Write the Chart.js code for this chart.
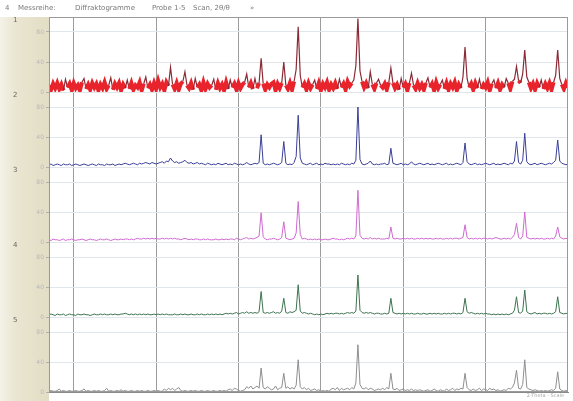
<!DOCTYPE html>
<html>
<head>
<meta charset="utf-8">
<script src="https://cdn.jsdelivr.net/npm/chart.js@4"></script>
<style>
  html, body { margin: 0; padding: 0; background: #ffffff; }
  #c { display: block; }
</style>
</head>
<body>
<canvas id="c" width="573" height="401"></canvas>
<script>
// Scan grid: 2-theta from scanStart in steps of scanStep (one value per step)
const scanStart = 7;
const scanStep = 0.25;
const scanEnd = 70;
const xTicks = [10, 20, 30, 40, 50, 60];

const panelLabels = ['1', '2', '3', '4', '5'];
const sampleNames = ['Probe 1', 'Probe 2', 'Probe 3', 'Probe 4', 'Probe 5'];

// Intensities (counts, relative 0-100 per panel)
const probe1 = [
  9,3,11,5,12,4,10,2,17,6,11,3,12,5,9,2,13,18,4,10,
  3,12,6,11,2,10,5,13,4,9,19,3,11,6,12,2,10,5,16,4,
  12,3,9,6,13,2,11,20,5,10,3,12,4,15,6,11,2,13,8,33,
  10,4,12,3,11,14,27,9,5,12,3,18,6,10,2,13,4,11,6,9,
  17,3,12,5,10,2,13,4,16,6,11,3,12,5,10,13,24,6,12,4,
  18,5,12,45,11,3,10,6,11,13,2,11,5,12,40,9,4,12,3,14,30,
  87,22,6,11,3,12,5,10,16,4,12,2,11,6,13,3,10,5,12,
  4,17,6,11,3,14,8,12,16,35,98,28,14,6,12,5,27,10,4,12,
  17,9,6,11,3,13,32,12,5,10,3,18,6,11,2,12,25,9,4,12,5,
  10,3,12,19,6,11,2,13,5,10,16,4,12,3,11,6,13,2,10,5,
  20,60,18,6,11,3,12,5,17,4,10,6,13,2,11,16,5,12,3,10,
  6,18,12,4,14,17,34,15,12,24,56,20,13,5,11,3,12,6,16,4,
  11,5,12,3,13,22,56,18,10,4,12,6
];
const probe2 = [
  3,4,2,3,4,3,2,4,3,3,4,2,3,4,3,2,3,4,3,2,
  3,4,3,2,4,3,3,2,4,3,3,4,2,3,4,3,4,5,4,3,
  4,5,4,3,5,4,5,6,5,4,6,5,4,5,6,7,5,8,7,12,
  8,6,7,5,6,7,9,6,5,6,4,5,6,4,5,4,3,5,4,3,
  4,3,5,4,3,4,5,3,4,3,5,4,3,4,3,4,6,4,3,4,
  5,4,6,43,5,3,4,3,4,5,4,3,4,6,34,5,3,4,3,6,14,
  69,12,5,4,3,4,5,3,4,5,3,4,3,5,4,4,3,4,3,
  4,3,5,4,3,4,3,5,4,9,80,10,4,3,4,5,8,4,3,4,
  3,4,4,5,3,4,25,5,4,3,4,5,3,4,3,4,7,4,3,4,5,
  4,3,4,5,3,4,3,4,5,4,3,4,5,3,4,3,4,5,4,3,
  6,32,7,4,3,4,5,3,4,3,4,5,4,3,4,5,3,4,3,4,
  5,4,3,5,4,8,34,6,4,9,45,7,4,3,4,5,3,4,5,4,
  3,4,5,4,6,9,36,8,5,4,3,4
];
const probe3 = [
  3,2,4,3,3,2,3,4,2,3,3,4,3,2,3,3,4,3,2,3,
  4,3,3,2,3,4,3,3,4,3,2,3,4,3,3,4,3,4,4,3,
  4,3,4,5,4,4,5,4,5,4,5,4,5,4,4,5,4,5,4,5,
  4,5,4,4,3,4,5,4,3,4,3,4,4,3,3,4,3,4,3,3,
  3,4,3,3,4,3,4,3,4,4,3,5,4,3,4,5,6,4,5,4,
  5,6,8,39,7,4,3,4,4,5,4,3,4,6,27,5,4,3,4,5,12,
  54,10,4,5,4,3,4,3,4,3,4,3,3,4,3,3,4,5,4,
  4,3,4,3,4,5,4,5,4,8,69,9,5,4,5,4,6,4,5,4,
  5,4,4,4,5,4,20,5,4,5,4,4,5,4,5,4,5,4,4,5,4,
  5,4,5,4,5,4,4,5,4,5,4,4,5,4,5,4,5,5,4,5,
  6,23,6,4,5,4,5,4,5,4,5,5,4,5,4,5,6,5,4,4,
  5,4,5,4,6,10,25,6,4,8,40,6,5,4,5,4,5,4,5,4,
  4,5,4,5,4,8,20,7,5,4,5,4
];
const probe4 = [
  3,4,3,2,4,3,3,4,2,3,4,3,3,2,4,3,3,4,3,3,
  2,3,4,3,3,4,3,4,3,3,4,3,4,3,3,4,4,5,4,3,
  4,3,4,3,4,3,4,3,4,3,3,4,3,4,3,4,3,4,3,3,
  3,4,3,3,4,3,4,3,3,4,3,3,4,3,4,3,3,4,3,4,
  3,4,3,4,3,4,5,4,5,4,5,6,4,5,6,5,7,5,6,5,
  6,5,7,34,6,5,6,5,6,7,5,6,5,8,25,6,5,7,6,7,9,
  43,8,5,6,5,4,5,4,3,4,3,4,3,4,5,4,5,4,5,
  5,4,5,4,5,6,5,6,5,8,56,9,6,5,6,5,6,5,4,5,
  5,4,4,5,4,5,25,6,5,4,5,4,5,4,5,4,5,4,4,5,4,
  4,5,4,4,5,4,5,4,5,4,4,5,4,5,4,5,5,4,5,4,
  6,25,7,5,6,5,4,5,4,5,4,5,4,4,3,4,3,4,3,4,
  3,4,3,4,5,9,27,6,5,8,36,7,5,4,5,6,4,5,4,5,
  5,4,5,4,5,7,27,6,5,4,5,4
];
const probe5 = [
  1,2,1,1,2,4,1,2,1,1,2,1,1,2,1,1,2,4,1,2,
  1,1,2,1,2,1,1,2,5,1,2,1,1,2,1,3,1,2,1,1,
  2,1,1,2,1,2,1,1,2,1,1,2,1,2,1,1,4,2,5,3,
  5,2,4,6,2,1,2,1,1,2,1,2,1,1,2,1,1,2,1,1,
  2,1,1,2,1,2,1,3,4,2,5,4,2,1,2,3,7,5,8,4,
  6,8,5,32,6,4,7,5,3,4,8,3,5,6,25,5,7,4,6,4,9,
  43,7,4,6,3,5,2,3,4,2,3,1,2,1,2,1,4,5,3,
  6,2,5,3,4,5,3,6,4,12,63,10,5,4,6,3,5,4,2,3,
  4,3,5,3,6,4,25,4,3,5,2,3,4,2,3,2,4,2,3,2,3,
  2,1,2,3,1,2,4,2,1,3,2,1,4,2,3,5,2,4,3,5,
  4,25,6,3,2,4,2,3,5,2,4,3,2,5,3,4,2,3,1,2,
  3,2,5,4,6,12,29,5,4,10,43,6,4,3,2,3,2,1,2,1,
  2,1,2,3,2,5,27,4,2,1,2,1
];

// Trace styles, top panel to bottom panel
const traceStyles = [
  { color: '#e8232b', peak: '#8a2a36', width: 4 },
  { color: '#3a3f96', width: 1 },
  { color: '#cf6ad0', width: 1 },
  { color: '#3d7350', width: 1 },
  { color: '#8e8e8e', width: 1 }
];

const traces = [probe1, probe2, probe3, probe4, probe5];
const toPoints = vals => vals.map((v, i) => ({ x: scanStart + i * scanStep, y: v }));

const datasets = traces.map((vals, k) => {
  const st = traceStyles[k];
  const ds = {
    label: sampleNames[k],
    data: toPoints(vals),
    yAxisID: 'y' + k,
    borderColor: st.color,
    borderWidth: st.width,
    borderJoinStyle: 'miter',
    pointRadius: 0,
    tension: 0,
    fill: false
  };
  if (st.peak) {
    // reflections rising above the noise band are drawn darker and thinner
    const above = c => c.p0.parsed.y > 15 || c.p1.parsed.y > 15;
    ds.segment = {
      borderColor: c => above(c) ? st.peak : st.color,
      borderWidth: c => above(c) ? 1.2 : st.width
    };
  }
  return ds;
});

const scales = {
  x: {
    type: 'linear',
    min: scanStart,
    max: scanEnd,
    afterBuildTicks: s => { s.ticks = xTicks.map(v => ({ value: v })); },
    ticks: { display: false },
    grid: { color: '#9c9c9c', drawTicks: false },
    border: { color: '#8a8a8a' },
    afterFit: s => { s.height = 9; }
  }
};
traces.forEach((_, k) => {
  scales['y' + k] = {
    type: 'linear',
    position: 'left',
    stack: 'scan',
    stackWeight: 1,
    weight: traces.length - k,
    min: 0,
    max: 100,
    ticks: {
      stepSize: 20,
      font: { family: 'DejaVu Sans', size: 6 },
      color: '#b8b8b8',
      padding: 2
    },
    grid: { color: '#e1e6eb', tickLength: 3, tickColor: '#b0b0b0' },
    border: { color: '#8a8a8a' },
    afterFit: s => { s.width = 45; }
  };
});

const decor = {
  id: 'decor',
  beforeDraw(chart) {
    const { ctx, chartArea } = chart;
    ctx.save();
    // beige label strip left of the plot
    const g = ctx.createLinearGradient(0, 0, chartArea.left, 0);
    g.addColorStop(0, '#f4f2e8');
    g.addColorStop(0.35, '#e9e5d0');
    g.addColorStop(1, '#e2ddc4');
    ctx.fillStyle = g;
    ctx.fillRect(0, chartArea.top, chartArea.left, chart.height - chartArea.top);
    // header line
    ctx.fillStyle = '#7a7a7a';
    ctx.font = '7px "DejaVu Sans"';
    ctx.textBaseline = 'middle';
    ctx.fillText('4', 5, 8);
    ctx.fillText('Messreihe:', 18, 8);
    ctx.fillText('Diffraktogramme', 75, 8);
    ctx.fillText('Probe 1-5', 152, 8);
    ctx.fillText('Scan, 2θ/θ', 193, 8);
    ctx.fillText('»', 250, 8);
    ctx.restore();
  },
  afterDraw(chart) {
    const { ctx, chartArea } = chart;
    ctx.save();
    ctx.strokeStyle = '#9a9a9a';
    ctx.lineWidth = 1;
    ctx.strokeRect(chartArea.left + 0.5, chartArea.top + 0.5,
      chartArea.right - chartArea.left - 1, chartArea.bottom - chartArea.top - 1);
    // panel labels
    ctx.fillStyle = '#666666';
    ctx.font = '7px "DejaVu Sans"';
    ctx.textBaseline = 'middle';
    panelLabels.forEach((t, k) => {
      const sc = chart.scales['y' + k];
      ctx.fillText(t, 13, sc.top + 3);
    });
    // axis caption bottom right
    ctx.fillStyle = '#a8a8a8';
    ctx.font = '5px "DejaVu Sans"';
    ctx.textAlign = 'right';
    ctx.fillText('2-Theta - Scale', chartArea.right - 4, chartArea.bottom + 4);
    ctx.restore();
  }
};

new Chart(document.getElementById('c'), {
  type: 'line',
  data: { datasets },
  options: {
    responsive: false,
    animation: false,
    layout: { padding: { left: 4, right: 5, top: 17, bottom: 0 } },
    scales,
    plugins: { legend: { display: false }, tooltip: { enabled: false } }
  },
  plugins: [decor]
});
</script>
</body>
</html>
